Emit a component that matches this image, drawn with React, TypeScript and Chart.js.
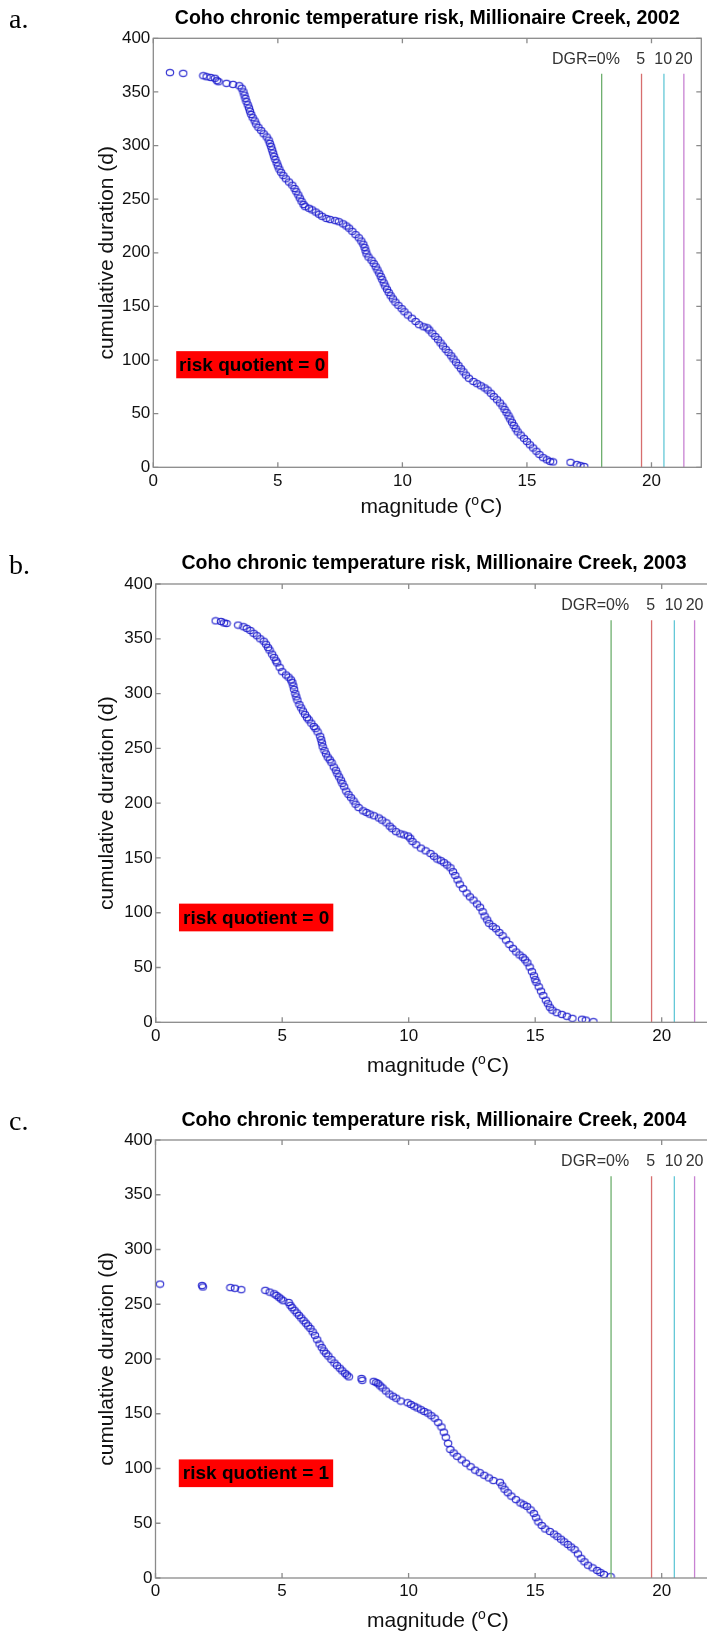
import { useEffect, useRef } from 'react';
import { Chart, registerables } from 'chart.js';

Chart.register(...registerables);
Chart.defaults.font.family = '"Liberation Sans", Arial, Helvetica, sans-serif';

// ---------- data ----------
const X_TICKS = [0, 5, 10, 15, 20];
const Y_TICKS = [0, 50, 100, 150, 200, 250, 300, 350, 400];
const X_MIN = 0;
const X_MAX = 22;
const Y_MIN = 0;
const Y_MAX = 400;
const X_TITLE_PARTS = ['magnitude (', 'o', 'C)'];
const Y_TITLE = 'cumulative duration (d)';
const YEARS = [2002, 2003, 2004];
const PANEL_LETTERS = ['a.', 'b.', 'c.'];
const RISK_QUOTIENTS = [0, 0, 1];
const DGR_THRESHOLDS = [18, 19.6, 20.5, 21.3];
const DGR_LABELS = ['DGR=0%', '5', '10', '20'];
const DGR_LABEL_X = [17.37, 19.57, 20.47, 21.3];
const DGR_LABEL_Y = 380;
const DGR_LINE_TOP = 367;
const RISK_BOX_X = [0.92, 7.02];
const RISK_BOX_Y = [83, 108.3];

const MAG_2002 = [0.67, 1.2, 2.01, 2.14, 2.3, 2.47, 2.55, 2.62, 2.94, 3.2, 3.45, 3.55, 3.62, 3.66, 3.7, 3.74, 3.79, 3.84, 3.88, 3.93, 3.99, 4.07, 4.13, 4.22, 4.33, 4.43, 4.55, 4.63, 4.68, 4.73, 4.77, 4.81, 4.85, 4.9, 4.95, 5.0, 5.06, 5.13, 5.22, 5.32, 5.45, 5.58, 5.67, 5.74, 5.82, 5.88, 5.95, 6.03, 6.1, 6.25, 6.38, 6.52, 6.65, 6.78, 6.95, 7.1, 7.3, 7.45, 7.62, 7.75, 7.86, 7.99, 8.12, 8.25, 8.35, 8.43, 8.48, 8.52, 8.56, 8.64, 8.76, 8.85, 8.93, 9.0, 9.07, 9.13, 9.19, 9.25, 9.31, 9.38, 9.45, 9.53, 9.62, 9.72, 9.84, 9.97, 10.08, 10.22, 10.38, 10.53, 10.67, 10.85, 11.0, 11.08, 11.2, 11.32, 11.43, 11.53, 11.63, 11.74, 11.85, 11.96, 12.05, 12.15, 12.25, 12.35, 12.45, 12.55, 12.67, 12.85, 13.0, 13.15, 13.3, 13.42, 13.55, 13.67, 13.8, 13.92, 14.02, 14.1, 14.18, 14.26, 14.33, 14.4, 14.47, 14.55, 14.63, 14.75, 14.88, 15.0, 15.12, 15.25, 15.38, 15.5, 15.65, 15.8, 15.93, 16.05, 16.75, 17.0, 17.15, 17.3];
const DUR_2002 = [368, 367.3, 365.1, 364.2, 363.5, 362.7, 360.5, 359.5, 358, 357, 355.8, 353.4, 350, 347, 344, 341, 338, 335, 332, 329, 326, 323, 320, 317, 314, 311, 308, 305, 302, 299, 296, 293, 290, 287, 284, 281, 278, 275, 272, 269, 266, 263, 260, 257, 254, 251, 248, 245, 243, 241.5, 240, 238, 236, 234, 232, 231, 230, 229, 227, 225, 223, 220, 217, 214, 211, 208, 205, 202, 199, 196, 193, 190, 187, 184, 181, 178, 175, 172, 169, 166, 163, 160, 157, 154, 151, 148, 145, 142, 139, 136, 133, 131, 130, 128, 125, 122, 119, 116, 113, 110, 107, 104, 101, 98, 95, 92, 89, 86, 83, 80, 78, 76, 74, 72, 69, 66, 63, 60, 57, 54, 51, 48, 45, 42, 39, 36, 33, 30, 27, 24, 21, 18, 15, 12, 9, 7, 5.5, 5, 4.6, 2.6, 1.6, 0.8];

const MAG_2003 = [2.37, 2.58, 2.7, 2.8, 3.26, 3.47, 3.6, 3.74, 3.87, 4.0, 4.13, 4.27, 4.36, 4.44, 4.5, 4.6, 4.68, 4.75, 4.8, 4.9, 5.0, 5.15, 5.25, 5.35, 5.4, 5.44, 5.47, 5.52, 5.56, 5.6, 5.68, 5.75, 5.82, 5.9, 5.98, 6.05, 6.15, 6.25, 6.32, 6.4, 6.5, 6.54, 6.57, 6.6, 6.67, 6.73, 6.8, 6.88, 6.95, 7.04, 7.12, 7.18, 7.25, 7.32, 7.38, 7.45, 7.53, 7.62, 7.72, 7.82, 7.9, 8.02, 8.2, 8.33, 8.46, 8.63, 8.82, 8.95, 9.12, 9.25, 9.35, 9.5, 9.67, 9.82, 9.97, 10.06, 10.15, 10.3, 10.48, 10.67, 10.86, 11.0, 11.13, 11.27, 11.4, 11.52, 11.65, 11.75, 11.84, 11.93, 12.02, 12.15, 12.29, 12.42, 12.56, 12.7, 12.82, 12.92, 13.0, 13.1, 13.18, 13.32, 13.45, 13.58, 13.71, 13.85, 13.98, 14.12, 14.25, 14.38, 14.51, 14.6, 14.69, 14.78, 14.87, 14.95, 15.0, 15.05, 15.14, 15.23, 15.32, 15.42, 15.5, 15.58, 15.68, 15.85, 16.05, 16.25, 16.47, 16.85, 17.0, 17.3];
const DUR_2003 = [366.4, 365.8, 364.5, 364, 362.5, 361, 359.5, 357.6, 355, 352.8, 350, 347.8, 345, 342, 339.7, 336, 333, 330, 328, 324, 320, 317, 315, 312.5, 310, 307, 303.8, 300, 297, 294, 290, 287, 284, 281, 278, 276, 273, 270, 268, 265, 261, 258, 255, 251.6, 248, 245, 242, 239.5, 237, 233, 230, 227, 224, 221, 218, 215, 211, 208, 205, 202, 199, 196, 193, 191.5, 190, 188.5, 186.5, 184.5, 182, 179, 176.7, 174, 172, 171, 170, 168, 165, 162, 159, 156.5, 154, 151.5, 149, 147.5, 145.7, 143.5, 141, 137.5, 134, 130, 126, 122, 118, 114.5, 111.5, 108, 105, 101, 97, 93.5, 90.3, 87.5, 85.4, 82, 79, 75, 71, 67.5, 64.2, 61.5, 59.3, 57, 54.4, 50.5, 46.3, 42.5, 39, 36.5, 32.5, 28.4, 24.5, 20.2, 17, 13.7, 11, 8.8, 7.2, 5.5, 3.6, 2.8, 2, 0.6];

const MAG_2004 = [0.18, 1.84, 1.87, 2.96, 3.14, 3.39, 4.34, 4.51, 4.69, 4.78, 4.87, 4.96, 5.05, 5.26, 5.33, 5.4, 5.49, 5.58, 5.67, 5.76, 5.85, 5.94, 6.03, 6.12, 6.21, 6.3, 6.39, 6.48, 6.57, 6.65, 6.74, 6.83, 6.95, 7.07, 7.17, 7.28, 7.38, 7.49, 7.56, 7.64, 8.14, 8.17, 8.62, 8.72, 8.8, 8.88, 8.97, 9.1, 9.24, 9.38, 9.51, 9.69, 9.96, 10.09, 10.22, 10.35, 10.49, 10.62, 10.76, 10.9, 11.03, 11.17, 11.3, 11.39, 11.47, 11.56, 11.65, 11.78, 11.92, 12.1, 12.27, 12.45, 12.63, 12.81, 12.99, 13.17, 13.35, 13.61, 13.7, 13.79, 13.92, 14.06, 14.24, 14.42, 14.55, 14.68, 14.82, 14.95, 15.04, 15.13, 15.26, 15.4, 15.58, 15.75, 15.88, 16.02, 16.15, 16.29, 16.42, 16.56, 16.69, 16.82, 16.95, 17.09, 17.27, 17.45, 17.58, 17.72, 17.98];
const DUR_2004 = [268.4, 267.1, 265.8, 265.2, 264.6, 263.3, 262.7, 261.1, 259.5, 258, 256.4, 254.8, 253.2, 251.6, 249, 246.9, 244.5, 242.1, 239.8, 237.4, 235, 232.7, 230.3, 227.9, 224.8, 221.6, 217.6, 213.7, 210.5, 207.4, 205, 202.7, 199.5, 196.4, 194, 191.6, 189.2, 186.9, 185.3, 183.7, 182.2, 180.5, 179.6, 178.5, 177.4, 175.5, 173.6, 170.8, 168, 166, 164.2, 161.6, 160.1, 158.5, 156.9, 155.3, 153.7, 152.1, 150.6, 148.2, 145.9, 141.9, 137.9, 133.2, 128.5, 123, 117.4, 114.2, 111.1, 107.9, 104.8, 101.6, 98.5, 96.2, 93.8, 91.4, 89, 87.4, 84.2, 81.1, 77.9, 74.8, 71.6, 68.5, 66.9, 65.4, 62.2, 59, 55.1, 51.2, 48, 44.8, 42.5, 40.1, 37.8, 35.4, 33, 30.6, 28.3, 25.9, 22, 18, 14.8, 11.7, 9.3, 6.9, 5, 3.2, 1.3];

const MAGNITUDES = [MAG_2002, MAG_2003, MAG_2004];
const DURATIONS = [DUR_2002, DUR_2003, DUR_2004];

// ---------- styles / layout ----------
const DGR_COLORS = ['rgb(110,175,110)', 'rgb(215,110,110)', 'rgb(100,200,215)', 'rgb(200,130,210)'];
const FRAME_COLOR = '#8a8a8a';
const TEXT_COLOR = '#111111';
const MARKER_COLOR = 'rgba(30,30,205,0.9)';
const SANS = '"Liberation Sans", Arial, sans-serif';

const PANELS = [
  { top: 0, w: 707, h: 544, left: 153.3, right: 701.3, plotTop: 38.3, plotBottom: 467.3, titleY: 18.3, xTickPad: 4.2, xTitleY: 505, yTitleX: 107, letterX: 9, letterBase: 27.5 },
  { top: 544, w: 720, h: 546, left: 155.7, right: 712.3, plotTop: 40, plotBottom: 478.3, titleY: 19.3, xTickPad: 3.9, xTitleY: 520, yTitleX: 107.3, letterX: 9, letterBase: 30 },
  { top: 1090, w: 720, h: 542, left: 155.5, right: 712.3, plotTop: 50, plotBottom: 488, titleY: 30.4, xTickPad: 2.8, xTitleY: 529, yTitleX: 107, letterX: 9, letterBase: 40 },
];

function makeMarker(): HTMLCanvasElement {
  const c = document.createElement('canvas');
  c.width = 10;
  c.height = 9;
  const g = c.getContext('2d')!;
  g.strokeStyle = MARKER_COLOR;
  g.lineWidth = 1.15;
  g.beginPath();
  g.ellipse(5, 4.5, 3.7, 3.1, 0, 0, Math.PI * 2);
  g.stroke();
  return c;
}

const decorPlugin = {
  id: 'decor',
  afterDatasetsDraw(chart: any, _args: any, opts: any) {
    const { ctx, scales } = chart;
    const xs = scales.x;
    const ys = scales.y;
    // red risk box
    const x0 = xs.getPixelForValue(RISK_BOX_X[0]);
    const x1 = xs.getPixelForValue(RISK_BOX_X[1]);
    const y0 = ys.getPixelForValue(RISK_BOX_Y[1]);
    const y1 = ys.getPixelForValue(RISK_BOX_Y[0]);
    ctx.save();
    ctx.fillStyle = '#ff0000';
    ctx.fillRect(x0, y0, x1 - x0, y1 - y0);
    ctx.fillStyle = '#000000';
    ctx.font = 'bold 19px ' + SANS;
    ctx.textAlign = 'center';
    ctx.textBaseline = 'middle';
    ctx.fillText('risk quotient = ' + opts.risk, (x0 + x1) / 2, (y0 + y1) / 2 + 1);
    // DGR labels
    ctx.fillStyle = '#333333';
    ctx.font = '16px ' + SANS;
    DGR_LABELS.forEach((t, i) => {
      ctx.fillText(t, xs.getPixelForValue(DGR_LABEL_X[i]), ys.getPixelForValue(DGR_LABEL_Y));
    });
    ctx.restore();
  },
  afterDraw(chart: any, _args: any, opts: any) {
    const { ctx, chartArea, scales } = chart;
    const { left, right, top, bottom } = chartArea;
    ctx.save();
    ctx.strokeStyle = FRAME_COLOR;
    ctx.lineWidth = 1.3;
    ctx.strokeRect(left, top, right - left, bottom - top);
    ctx.beginPath();
    const tl = 5;
    X_TICKS.forEach((v) => {
      const px = scales.x.getPixelForValue(v);
      ctx.moveTo(px, bottom);
      ctx.lineTo(px, bottom - tl);
      ctx.moveTo(px, top);
      ctx.lineTo(px, top + tl);
    });
    Y_TICKS.forEach((v) => {
      const py = scales.y.getPixelForValue(v);
      ctx.moveTo(left, py);
      ctx.lineTo(left + tl, py);
      ctx.moveTo(right, py);
      ctx.lineTo(right - tl, py);
    });
    ctx.stroke();
    // title
    ctx.fillStyle = '#000000';
    ctx.font = 'bold 19.5px ' + SANS;
    ctx.textAlign = 'center';
    ctx.textBaseline = 'middle';
    ctx.fillText(opts.title, (left + right) / 2, opts.titleY);
    // x axis title with superscript o
    ctx.fillStyle = TEXT_COLOR;
    const bigFont = '21px ' + SANS;
    const supFont = '14px ' + SANS;
    ctx.font = bigFont;
    const w0 = ctx.measureText(X_TITLE_PARTS[0]).width;
    const w2 = ctx.measureText(X_TITLE_PARTS[2]).width;
    ctx.font = supFont;
    const w1 = ctx.measureText(X_TITLE_PARTS[1]).width + 1;
    const total = w0 + w1 + w2;
    let xx = (left + right) / 2 - total / 2 + 4;
    const base = opts.xTitleY + 7.5;
    ctx.textAlign = 'left';
    ctx.textBaseline = 'alphabetic';
    ctx.font = bigFont;
    ctx.fillText(X_TITLE_PARTS[0], xx, base);
    xx += w0;
    ctx.font = supFont;
    ctx.fillText(X_TITLE_PARTS[1], xx, base - 8);
    xx += w1;
    ctx.font = bigFont;
    ctx.fillText(X_TITLE_PARTS[2], xx, base);
    // panel letter
    ctx.fillStyle = '#000000';
    ctx.font = '28px "Liberation Serif", "Times New Roman", serif';
    ctx.fillText(opts.letter, opts.letterX, opts.letterBase);
    ctx.restore();
  },
};

function Panel({ idx }: { idx: number }) {
  const ref = useRef<HTMLCanvasElement>(null);
  const L = PANELS[idx];
  useEffect(() => {
    if (!ref.current) return;
    const marker = makeMarker();
    const mags = MAGNITUDES[idx];
    const durs = DURATIONS[idx];
    const points = mags.map((m, i) => ({ x: m, y: durs[i] }));
    const lineSets = DGR_THRESHOLDS.map((t, i) => ({
      data: [
        { x: t, y: 0 },
        { x: t, y: DGR_LINE_TOP },
      ],
      showLine: true,
      borderColor: DGR_COLORS[i],
      borderWidth: 1.3,
      pointRadius: 0,
      fill: false,
    }));
    const chart = new Chart(ref.current, {
      type: 'scatter',
      data: {
        datasets: [
          ...lineSets,
          {
            data: points,
            pointStyle: marker,
            pointRadius: 4,
            borderColor: MARKER_COLOR,
            backgroundColor: 'rgba(0,0,0,0)',
          },
        ] as any,
      },
      options: {
        responsive: false,
        animation: false,
        devicePixelRatio: 1,
        layout: { padding: { left: 0, right: L.w - L.right, top: L.plotTop, bottom: 0 } },
        plugins: {
          legend: { display: false },
          tooltip: { enabled: false },
          title: { display: false },
          decor: {
            title: 'Coho chronic temperature risk, Millionaire Creek, ' + YEARS[idx],
            titleY: L.titleY,
            xTitleY: L.xTitleY,
            letter: PANEL_LETTERS[idx],
            letterX: L.letterX,
            letterBase: L.letterBase,
            risk: RISK_QUOTIENTS[idx],
          },
        } as any,
        scales: {
          x: {
            type: 'linear',
            position: 'bottom',
            min: X_MIN,
            max: X_MAX,
            afterBuildTicks: (s: any) => {
              s.ticks = X_TICKS.map((v) => ({ value: v }));
            },
            afterFit: (s: any) => {
              s.height = L.h - L.plotBottom;
            },
            grid: { display: false, drawTicks: false },
            border: { display: false },
            ticks: { color: TEXT_COLOR, font: { size: 17 }, padding: L.xTickPad, maxRotation: 0, autoSkip: false },
            title: { display: false },
          },
          y: {
            type: 'linear',
            position: 'left',
            min: Y_MIN,
            max: Y_MAX,
            afterBuildTicks: (s: any) => {
              s.ticks = Y_TICKS.map((v) => ({ value: v }));
            },
            afterFit: (s: any) => {
              s.width = L.left;
            },
            grid: { display: false, drawTicks: false },
            border: { display: false },
            ticks: { color: TEXT_COLOR, font: { size: 17 }, padding: 3, autoSkip: false },
            title: {
              display: true,
              text: Y_TITLE,
              color: TEXT_COLOR,
              font: { size: 21 },
              padding: { top: L.yTitleX - 12.6, bottom: 0 },
            },
          },
        } as any,
      },
      plugins: [decorPlugin as any],
    });
    return () => chart.destroy();
  }, [idx]);
  return (
    <canvas
      ref={ref}
      width={L.w}
      height={L.h}
      style={{ position: 'absolute', left: 0, top: L.top, width: L.w, height: L.h, display: 'block' }}
    />
  );
}

export default function App() {
  return (
    <div
      style={{
        position: 'absolute',
        left: 0,
        top: 0,
        width: 707,
        height: 1632,
        overflow: 'hidden',
        background: '#ffffff',
      }}
    >
      <Panel idx={0} />
      <Panel idx={1} />
      <Panel idx={2} />
    </div>
  );
}
